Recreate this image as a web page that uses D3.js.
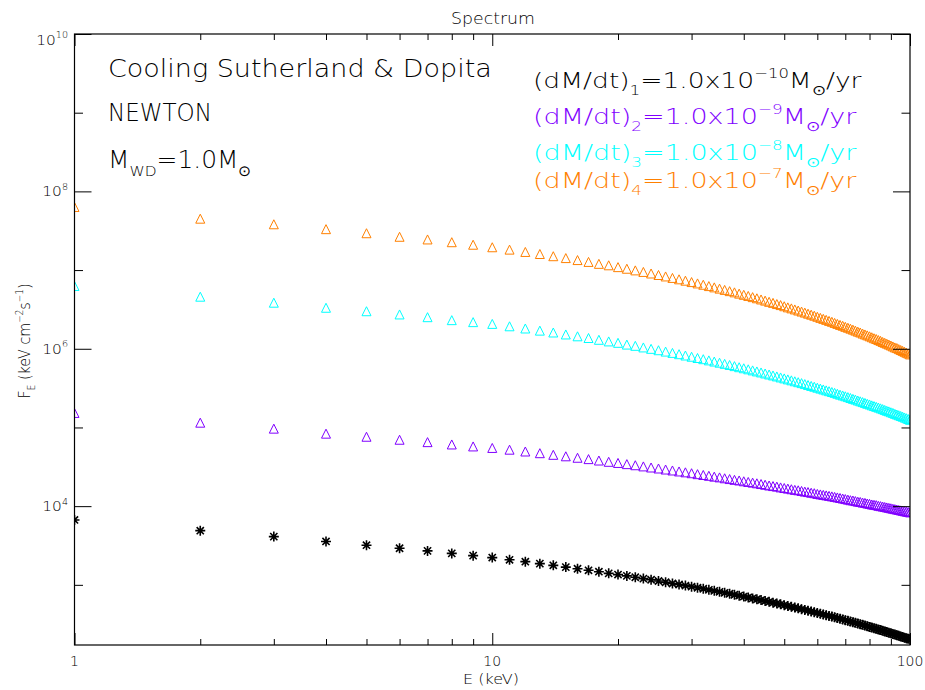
<!DOCTYPE html>
<html><head><meta charset="utf-8">
<script src="https://cdn.jsdelivr.net/npm/d3@7/dist/d3.min.js"></script>
<style>
body{margin:0;background:#fff}
svg text{font-family:"DejaVu Sans",sans-serif;font-weight:200}
</style>
</head><body>
<svg id="chart" width="925" height="690"></svg>
<script>
// ---------------- data ----------------
const energy = [1,2,3,4,5,6,7,8,9,10,11,12,13,14,15,16,17,18,19,20,21,22,23,24,25,26,27,28,29,30,
31,32,33,34,35,36,37,38,39,40,41,42,43,44,45,46,47,48,49,50,51,52,53,54,55,56,57,58,59,60,
61,62,63,64,65,66,67,68,69,70,71,72,73,74,75,76,77,78,79,80,81,82,83,84,85,86,87,88,89,90,
91,92,93,94,95,96,97,98,99,100];

const flux1 = [6.68e3,4.88e3,4.10e3,3.56e3,3.19e3,2.92e3,2.70e3,2.51e3,2.35e3,2.22e3,
2.08e3,1.97e3,1.86e3,1.77e3,1.68e3,1.60e3,1.53e3,1.47e3,1.40e3,1.35e3,
1.30e3,1.25e3,1.20e3,1.16e3,1.12e3,1.08e3,1.04e3,1.01e3,978,947,
918,891,864,839,815,792,770,749,729,710,
691,673,656,640,624,608,593,579,565,552,
539,526,514,503,491,480,470,459,449,440,
430,421,412,403,395,387,379,371,364,356,
349,342,335,329,322,316,310,304,298,292,
287,281,276,271,266,261,256,251,247,242,
238,234,229,225,221,217,213,210,206,202];

const flux2 = [1.53e5,1.15e5,9.66e4,8.34e4,7.62e4,6.98e4,6.51e4,6.08e4,5.74e4,5.49e4,
5.22e4,4.95e4,4.71e4,4.49e4,4.30e4,4.12e4,3.96e4,3.80e4,3.66e4,3.54e4,
3.42e4,3.31e4,3.20e4,3.10e4,3.01e4,2.92e4,2.84e4,2.76e4,2.69e4,2.62e4,
2.55e4,2.49e4,2.43e4,2.37e4,2.32e4,2.26e4,2.21e4,2.16e4,2.12e4,2.07e4,
2.03e4,1.99e4,1.95e4,1.91e4,1.87e4,1.83e4,1.80e4,1.77e4,1.73e4,1.70e4,
1.67e4,1.64e4,1.61e4,1.59e4,1.56e4,1.53e4,1.51e4,1.48e4,1.46e4,1.43e4,
1.41e4,1.39e4,1.37e4,1.35e4,1.33e4,1.31e4,1.29e4,1.27e4,1.25e4,1.23e4,
1.21e4,1.19e4,1.18e4,1.16e4,1.14e4,1.13e4,1.11e4,1.10e4,1.08e4,1.07e4,
1.05e4,1.04e4,1.03e4,1.01e4,1.00e4,9.88e3,9.75e3,9.63e3,9.51e3,9.39e3,
9.27e3,9.16e3,9.05e3,8.94e3,8.83e3,8.72e3,8.62e3,8.52e3,8.42e3,8.32e3];

const flux3 = [6.28e6,4.59e6,3.85e6,3.32e6,3.00e6,2.73e6,2.52e6,2.31e6,2.18e6,2.07e6,
1.93e6,1.81e6,1.70e6,1.61e6,1.52e6,1.44e6,1.37e6,1.30e6,1.24e6,1.19e6,
1.13e6,1.09e6,1.04e6,9.98e5,9.58e5,9.21e5,8.86e5,8.53e5,8.21e5,7.92e5,
7.63e5,7.37e5,7.12e5,6.88e5,6.65e5,6.43e5,6.22e5,6.02e5,5.83e5,5.65e5,
5.48e5,5.31e5,5.15e5,5.00e5,4.85e5,4.71e5,4.58e5,4.45e5,4.32e5,4.20e5,
4.08e5,3.97e5,3.86e5,3.76e5,3.66e5,3.56e5,3.46e5,3.37e5,3.29e5,3.20e5,
3.12e5,3.04e5,2.96e5,2.89e5,2.82e5,2.75e5,2.68e5,2.61e5,2.55e5,2.49e5,
2.43e5,2.37e5,2.31e5,2.26e5,2.20e5,2.15e5,2.10e5,2.05e5,2.00e5,1.96e5,
1.91e5,1.87e5,1.83e5,1.79e5,1.75e5,1.71e5,1.67e5,1.63e5,1.60e5,1.56e5,
1.53e5,1.49e5,1.46e5,1.43e5,1.40e5,1.37e5,1.34e5,1.31e5,1.28e5,1.25e5];

const flux4 = [6.34e7,4.50e7,3.82e7,3.31e7,2.94e7,2.65e7,2.45e7,2.26e7,2.10e7,1.95e7,
1.82e7,1.70e7,1.60e7,1.50e7,1.42e7,1.34e7,1.27e7,1.20e7,1.15e7,1.09e7,
1.04e7,9.91e6,9.47e6,9.05e6,8.66e6,8.30e6,7.95e6,7.63e6,7.33e6,7.04e6,
6.77e6,6.51e6,6.26e6,6.03e6,5.81e6,5.60e6,5.40e6,5.21e6,5.02e6,4.85e6,
4.69e6,4.53e6,4.38e6,4.23e6,4.09e6,3.95e6,3.83e6,3.70e6,3.59e6,3.47e6,
3.36e6,3.26e6,3.16e6,3.06e6,2.97e6,2.88e6,2.79e6,2.71e6,2.63e6,2.55e6,
2.47e6,2.40e6,2.33e6,2.26e6,2.20e6,2.13e6,2.07e6,2.01e6,1.96e6,1.90e6,
1.85e6,1.80e6,1.75e6,1.70e6,1.65e6,1.61e6,1.56e6,1.52e6,1.48e6,1.44e6,
1.40e6,1.36e6,1.33e6,1.29e6,1.26e6,1.22e6,1.19e6,1.16e6,1.13e6,1.10e6,
1.07e6,1.04e6,1.02e6,9.90e5,9.65e5,9.40e5,9.16e5,8.92e5,8.70e5,8.47e5];

const seriesColors = ["#000000","#8000ff","#00ffff","#ff8000"];
const seriesSymbols = ["asterisk","triangle","triangle","triangle"];
const seriesExponents = ["−10","−9","−8","−7"];
const xMajorTicks = [1,10,100];
const xMinorTicks = [2,3,4,5,6,7,8,9,20,30,40,50,60,70,80,90];
const yMajorTicks = [1e4,1e6,1e8,1e10];
const yMinorTicks = [1e3,1e5,1e7,1e9];
const yTickExponents = ["4","6","8","10"];
const xTickLabels = ["1","10","100"];

// ---------------- layout ----------------
const svg = d3.select("#chart");
const L = 74.5, R = 910, T = 34, B = 645;
const x = d3.scaleLog().domain([1,100]).range([L,R]);
const y = d3.scaleLog().domain([172,1e10]).range([B,T]);

// rich text helper: parts = [[string, ''|'sub'|'sup'], ...]
function rich(parts, o){
  const t = svg.append("text").attr("font-size", o.size).attr("fill", o.color||"#000");
  let cur = 0;
  parts.forEach(([s,k])=>{
    const ts = t.append("tspan").text(s);
    const tgt = k==="sub" ? o.size*0.32 : k==="sup" ? -o.size*0.45 : 0;
    if (tgt!==cur) ts.attr("dy", tgt-cur);
    cur = tgt;
    if (k) ts.attr("font-size", o.size*0.62);
  });
  const w = t.node().getComputedTextLength();
  const k = o.width ? o.width/w : (o.sx||1);
  const off = o.anchor==="middle" ? w/2 : o.anchor==="end" ? w : 0;
  t.attr("transform", `translate(${o.x},${o.y}) rotate(${o.rotate||0}) scale(${k},1) translate(${-off},0)`);
  return t;
}

// ---------------- markers ----------------
svg.append("clipPath").attr("id","plotclip").append("rect")
  .attr("x",L).attr("y",T).attr("width",R-L).attr("height",B-T);
const plot = svg.append("g").attr("clip-path","url(#plotclip)");

function markerPath(kind, r){
  const p = d3.path();
  if (kind==="triangle"){
    p.moveTo(-r, r); p.lineTo(r, r); p.lineTo(0,-r); p.closePath();
  } else {
    const d = r*0.72;
    p.moveTo(0,-r); p.lineTo(0,r);
    p.moveTo(-r,0); p.lineTo(r,0);
    p.moveTo(-d,-d); p.lineTo(d,d);
    p.moveTo(-d,d); p.lineTo(d,-d);
  }
  return p.toString();
}

const allSeries = [flux1, flux2, flux3, flux4];
allSeries.forEach((vals,i)=>{
  const pts = energy.map((e,j)=>({e, v: vals[j]}));
  const ast = seriesSymbols[i]==="asterisk";
  plot.append("g").selectAll("path").data(pts).join("path")
    .attr("d", markerPath(seriesSymbols[i], ast ? 5 : 4.5))
    .attr("transform", d=>`translate(${x(d.e)},${y(d.v)})`)
    .attr("fill","none")
    .attr("stroke", seriesColors[i])
    .attr("stroke-width", ast ? 1.6 : 1);
});

// ---------------- axes ----------------
const axisStyle = g => { g.select(".domain").remove(); g.selectAll("line").attr("stroke","#000"); g.selectAll("text").remove(); };
svg.append("g").attr("transform",`translate(0,${B})`).call(d3.axisTop(x).tickValues(xMajorTicks).tickSize(12)).call(axisStyle);
svg.append("g").attr("transform",`translate(0,${B})`).call(d3.axisTop(x).tickValues(xMinorTicks).tickSize(6)).call(axisStyle);
svg.append("g").attr("transform",`translate(0,${T})`).call(d3.axisBottom(x).tickValues(xMajorTicks).tickSize(12)).call(axisStyle);
svg.append("g").attr("transform",`translate(0,${T})`).call(d3.axisBottom(x).tickValues(xMinorTicks).tickSize(6)).call(axisStyle);
svg.append("g").attr("transform",`translate(${L},0)`).call(d3.axisRight(y).tickValues(yMajorTicks).tickSize(17)).call(axisStyle);
svg.append("g").attr("transform",`translate(${L},0)`).call(d3.axisRight(y).tickValues(yMinorTicks).tickSize(8.5)).call(axisStyle);
svg.append("g").attr("transform",`translate(${R},0)`).call(d3.axisLeft(y).tickValues(yMajorTicks).tickSize(17)).call(axisStyle);
svg.append("g").attr("transform",`translate(${R},0)`).call(d3.axisLeft(y).tickValues(yMinorTicks).tickSize(8.5)).call(axisStyle);

svg.append("rect").attr("x",L).attr("y",T).attr("width",R-L).attr("height",B-T)
  .attr("fill","none").attr("stroke","#000").attr("stroke-width",1.2);

// tick labels
xMajorTicks.forEach((v,i)=> rich([[xTickLabels[i],""]], {x:x(v), y:666, size:14, anchor:"middle"}));
yMajorTicks.forEach((v,i)=> {
  const yy = Math.max(y(v), T+5.5);
  rich([["10",""],[yTickExponents[i],"sup"]], {x:68, y:yy+5, size:14, anchor:"end", sx:1.1});
});

// titles
rich([["Spectrum",""]], {x:493, y:24, size:16, anchor:"middle", width:84});
rich([["E (keV)",""]], {x:491, y:684, size:14, anchor:"middle", width:56});
rich([["F",""],["E","sub"],[" (keV cm",""],["−2","sup"],["s",""],["−1","sup"],[")",""]],
  {x:30, y:341, size:16, anchor:"middle", rotate:-90, width:115});

// annotations
rich([["Cooling Sutherland & Dopita",""]], {x:108, y:77, size:25, width:384});
rich([["NEWTON",""]], {x:108, y:121, size:24, width:104});
rich([["M",""],["WD","sub"],["=1.0M",""],["⊙","sub"]], {x:108, y:168, size:24, width:144});

const legendY = [88,124,160,188];
const legendW = [329,324,324,324];
seriesColors.forEach((c,i)=>{
  rich([["(dM/dt)",""],[String(i+1),"sub"],["=1.0x10",""],[seriesExponents[i],"sup"],["M",""],["⊙","sub"],["/yr",""]],
    {x:533, y:legendY[i], size:22, color:c, width:legendW[i]});
});
</script>
</body></html>
